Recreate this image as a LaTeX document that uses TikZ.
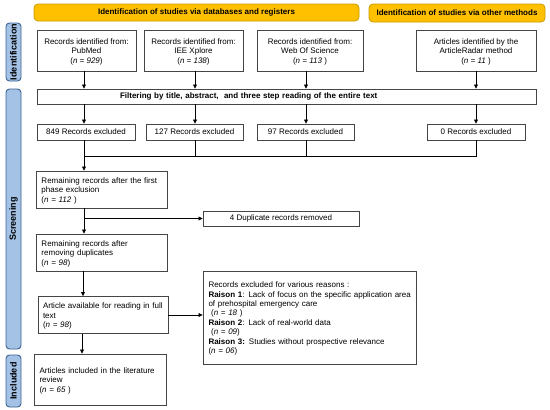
\documentclass[tikz,border=0pt]{standalone}
\usepackage{fontspec}
\setmainfont{Liberation Sans}
\usetikzlibrary{arrows.meta,calc}
\definecolor{bannerfill}{HTML}{FFC000}
\definecolor{bannerdraw}{HTML}{C89B00}
\definecolor{tabfill}{HTML}{A3C2E6}
\definecolor{tabdraw}{HTML}{3D6291}
\definecolor{boxdraw}{HTML}{454545}
\begin{document}
\begin{tikzpicture}[x=1pt,y=-1pt,
  box/.style={draw=boxdraw,line width=0.9pt,fill=white,inner sep=0pt,
    font=\fontsize{8}{9.4}\selectfont,align=center},
  lbox/.style={box,align=left,inner xsep=5.5pt},
  banner/.style={draw=bannerdraw,line width=0.8pt,fill=bannerfill,rounded corners=4pt,
    inner sep=0pt,font=\fontsize{8}{9.3}\selectfont\bfseries},
  tab/.style={draw=tabdraw,line width=0.9pt,fill=tabfill,rounded corners=3.5pt,
    inner sep=0pt,rotate=90,minimum height=15,font=\fontsize{9}{10}\selectfont\bfseries},
  arr/.style={draw=black,line width=0.7pt,-{Triangle[length=4pt,width=4pt]}},
  ln/.style={draw=black,line width=0.7pt}]
\useasboundingbox (0,0) rectangle (550,410);
\fill[white] (0,0) rectangle (550,410);

% banners
\node[banner,minimum width=325,minimum height=17] (ban1) at (196.5,12.5)
  {Identification of studies via databases and registers};
\node[banner,minimum width=176,minimum height=18] (ban2) at (457,13)
  {Identification of studies via other methods};

% side tabs
\node[tab,minimum width=58] (tid) at (13.5,52) {Identification};
\node[tab,minimum width=260] (tscr) at (13.5,219) {Screening};
\node[tab,minimum width=52] (tinc) at (13.5,381) {Included};

% identification boxes
\node[box,minimum width=99,minimum height=41] (pub) at (86.5,50.5)
  {\rule{0pt}{8pt}Records identified from:\\PubMed\\(\textit{n = 929})};
\node[box,minimum width=99,minimum height=41] (iee) at (193.5,50.5)
  {\rule{0pt}{8pt}Records identified from:\\IEE Xplore\\(\textit{n = 138})};
\node[box,minimum width=106,minimum height=41] (wos) at (310,50.5)
  {\rule{0pt}{8pt}Records identified from:\\Web Of Science\\(\textit{n = 113} )};
\node[box,minimum width=120,minimum height=41] (art) at (476,50.5)
  {\rule{0pt}{8pt}Articles identified by the\\ArticleRadar method\\(\textit{n = 11} )};

% filtering bar
\node[box,minimum width=499,minimum height=15,text width=489,align=left] (filt) at (286.5,96.5)
  {\hspace*{78pt}\textbf{Filtering by title, abstract,\ \ and three step reading of the entire text}};

% excluded boxes
\node[box,minimum width=98,minimum height=16] (ex1) at (86,132) {849 Records excluded};
\node[box,minimum width=97,minimum height=16] (ex2) at (194.5,132) {127 Records excluded};
\node[box,minimum width=97,minimum height=16] (ex3) at (305.5,132) {97 Records excluded};
\node[box,minimum width=98,minimum height=16] (ex4) at (476,132) {0 Records excluded};

% screening boxes
\node[lbox,minimum width=131,minimum height=37,text width=120] (rem1) at (101.5,189.5)
  {\rule{0pt}{8pt}Remaining records after the first\\phase exclusion\\(\textit{n = 112} )};
\node[box,minimum width=156,minimum height=15] (dup) at (281,218.5) {4 Duplicate records removed};
\node[lbox,minimum width=131,minimum height=37,text width=120] (rem2) at (101.5,252.5)
  {\rule{0pt}{8pt}Remaining records after\\removing duplicates\\(\textit{n = 98})};
\node[lbox,minimum width=130,minimum height=37,inner xsep=5pt,text width=120] (full) at (103,315)
  {\rule{0pt}{8pt}\mbox{Article available for reading in full}\\text\\(\textit{n = 98})};
\node[lbox,minimum width=213,minimum height=93,text width=202] (rea) at (309.5,317.5)
  {\rule{0pt}{8pt}Records excluded for various reasons :\\
   \mbox{\textbf{Raison 1}: Lack of focus on the specific application area}\\
   of prehospital emergency care\\
   \ (\textit{n = 18} )\\
   \textbf{Raison 2}: Lack of real-world data\\
   \ (\textit{n = 09})\\
   \mbox{\textbf{Raison 3:} Studies without prospective relevance}\\
   (\textit{n = 06})};

% included
\node[lbox,minimum width=132,minimum height=51,text width=121] (inc) at (100,379.5)
  {\rule{0pt}{8pt}Articles included in the literature\\review\\(\textit{n = 65} )};

% arrows identification -> filter
\draw[arr] ($(pub.south)+(-2.5,0)$) -- ($(pub.south |- filt.north)+(-2.5,0)$);
\draw[arr] ($(iee.south)+(1.5,0)$) -- ($(iee.south |- filt.north)+(1.5,0)$);
\draw[arr] ($(wos.south)+(-4,0)$) -- ($(wos.south |- filt.north)+(-4,0)$);
\draw[arr] (art.south) -- (art.south |- filt.north);

% filter -> excluded
\draw[arr] ($(ex1.north |- filt.south)+(-2,0)$) -- ($(ex1.north)+(-2,0)$);
\draw[arr] ($(ex2.north |- filt.south)+(0.5,0)$) -- ($(ex2.north)+(0.5,0)$);
\draw[arr] ($(ex3.north |- filt.south)+(0.5,0)$) -- ($(ex3.north)+(0.5,0)$);
\draw[arr] (ex4.north |- filt.south) -- (ex4.north);

% merge
\coordinate (my) at (0,156.5);
\draw[ln] ($(ex2.south)+(0.5,0)$) -- ($(ex2.south |- my)+(0.5,0)$);
\draw[ln] ($(ex3.south)+(0.5,0)$) -- ($(ex3.south |- my)+(0.5,0)$);
\draw[ln] (ex4.south) -- (ex4.south |- my) -- ($(ex1.south |- my)+(-2,0)$);
\draw[arr] ($(ex1.south)+(-2,0)$) -- ($(ex1.south |- rem1.north)+(-2,0)$);

% screening chain
\coordinate (cx) at (84,0);
\draw[arr] (cx |- rem1.south) -- (cx |- rem2.north);
\draw[arr] (cx |- dup.west) -- (dup.west);
\draw[arr] ($(cx |- rem2.south)+(-1,0)$) -- ($(cx |- full.north)+(-1,0)$);
\draw[arr] ($(cx |- full.south)+(-2,0)$) -- ($(cx |- inc.north)+(-2,0)$);
\draw[arr] (full.east) -- (full.east -| rea.west);
\end{tikzpicture}
\end{document}
